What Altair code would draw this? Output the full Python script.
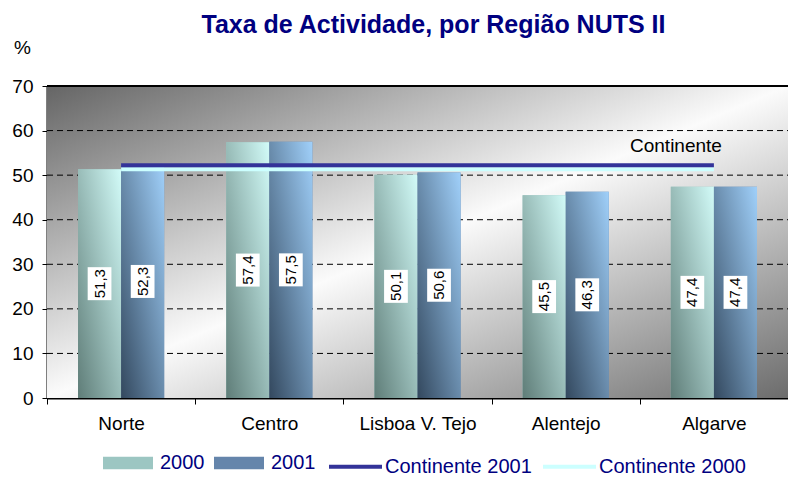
import altair as alt
import pandas as pd

regions = ["Norte", "Centro", "Lisboa V. Tejo", "Alentejo", "Algarve"]
years = ["2000", "2001"]
rate_2000 = [51.3, 57.4, 50.1, 45.5, 47.4]
rate_2001 = [52.3, 57.5, 50.6, 46.3, 47.4]
continente_2000 = [51.3, 51.3, 51.3, 51.3, 51.3]
continente_2001 = [52.2, 52.2, 52.2, 52.2, 52.2]
line_series = ["Continente 2001", "Continente 2000"]
y_ticks = [0, 10, 20, 30, 40, 50, 60, 70]
grid_values = [10, 20, 30, 40, 50, 60]
annot_region = ["Algarve"]
annot_value = [52.2]
annot_text = ["Continente"]

W, H = 741, 312
FONT = "Liberation Sans"
NAVY = "#000080"

bars = pd.DataFrame({
    "region": regions * 2,
    "year": ["2000"] * 5 + ["2001"] * 5,
    "value": rate_2000 + rate_2001,
})
lines = pd.DataFrame({
    "region": regions * 2,
    "series": ["Continente 2000"] * 5 + ["Continente 2001"] * 5,
    "value": continente_2000 + continente_2001,
})
grid = pd.DataFrame({"g": grid_values})
annot = pd.DataFrame({"region": annot_region, "value": annot_value, "text": annot_text})
one = pd.DataFrame({"k": [0]})

x_scale = alt.Scale(domain=regions, paddingInner=0, paddingOuter=0)
x_axis = alt.Axis(title=None, labelFontSize=19, labelFont=FONT, labelColor="black",
                  labelAngle=0, domainColor="black", domainWidth=2, tickColor="black",
                  tickSize=6, tickBand="extent", labelPadding=10, grid=False)
x_enc = alt.X("region:N", scale=x_scale, axis=x_axis, sort=regions)
xo_enc = alt.XOffset("year:N", scale=alt.Scale(domain=years, paddingOuter=0.72, paddingInner=0))
y_scale = alt.Scale(domain=[0, 70], nice=False, zero=True)
y_axis = alt.Axis(values=y_ticks, title="%", titleAngle=0, titleX=-25, titleY=-39,
                  titleAlign="center", titleBaseline="middle", titleFontSize=19,
                  titleFont=FONT, titleFontWeight="normal", titleColor="black",
                  labelFontSize=19, labelFont=FONT, labelColor="black",
                  domainColor="black", domainWidth=2, tickColor="black", tickSize=5,
                  labelPadding=9, grid=False)

def Y(field):
    return alt.Y(field, scale=y_scale, axis=y_axis, title="%")

bg = alt.Chart(one).mark_rect(
    fill=alt.LinearGradient(gradient="linear", x1=0, y1=0, x2=1, y2=1,
                            stops=[alt.GradientStop(offset=0, color="#656565"),
                                   alt.GradientStop(offset=0.5, color="#fbfbfb"),
                                   alt.GradientStop(offset=1, color="#6c6c6c")])
).encode(x=alt.value(0), x2=alt.value(W), y=alt.datum(0), y2=alt.datum(70))

gridlines = alt.Chart(grid).mark_rule(color="black", strokeWidth=1, strokeDash=[6, 4]).encode(
    x=alt.value(0), x2=alt.value(W), y=Y("g:Q"))

topline = alt.Chart(one).mark_rule(color="black", strokeWidth=2).encode(
    x=alt.value(0), x2=alt.value(W), y=alt.datum(70))

base_bars = alt.Chart(bars).mark_bar().encode(
    x=x_enc, xOffset=xo_enc, y=Y("value:Q"),
    fill=alt.Fill("year:N", scale=alt.Scale(domain=years, range=["#9cc6c2", "#6585ab"]),
                  legend=alt.Legend(title=None, orient="none", legendX=56, legendY=352,
                                    direction="horizontal", padding=0,
                                    symbolType="M-1,-0.25H1V0.25H-1Z", symbolSize=2500,
                                    symbolStrokeWidth=0, labelFontSize=20, labelFont=FONT,
                                    labelColor=NAVY, labelOffset=7, columnPadding=9,
                                    labelLimit=300)))

def grad_bars(year, c0, c1):
    return alt.Chart(bars).mark_bar(
        fill=alt.LinearGradient(gradient="linear", x1=0, y1=1, x2=1, y2=0,
                                stops=[alt.GradientStop(offset=0, color=c0),
                                       alt.GradientStop(offset=1, color=c1)])
    ).encode(x=x_enc, xOffset=xo_enc, y=Y("value:Q")).transform_filter(
        alt.datum.year == year)

g2000 = grad_bars("2000", "#5f7d78", "#d2fbf8")
g2001 = grad_bars("2001", "#33485e", "#a0d0fa")

stroke_enc = alt.Stroke("series:N", scale=alt.Scale(domain=line_series, range=["#333399", "#ccffff"]),
                        legend=alt.Legend(title=None, orient="none", legendX=280, legendY=352,
                                          direction="horizontal", padding=0,
                                          symbolType="stroke", symbolSize=2809,
                                          symbolStrokeWidth=4, labelFontSize=20, labelFont=FONT,
                                          labelColor=NAVY, labelOffset=1, columnPadding=3,
                                          labelLimit=300))

def line_layer(series):
    return alt.Chart(lines).mark_line(strokeWidth=4, strokeCap="butt").encode(
        x=x_enc, y=Y("value:Q"), stroke=stroke_enc).transform_filter(
        alt.datum.series == series)

l2000 = line_layer("Continente 2000")
l2001 = line_layer("Continente 2001")

lab = alt.Chart(bars).transform_calculate(
    mid="datum.value / 2",
    label="replace(format(datum.value, '.1f'), '.', ',')")

boxes = lab.mark_point(shape="M-0.72,-1H0.72V1H-0.72Z", size=1089, filled=True,
                       fill="white", opacity=1, strokeWidth=0).encode(
    x=x_enc, xOffset=xo_enc, y=Y("mid:Q"))

texts = lab.mark_text(angle=270, fontSize=15, font=FONT, color="black",
                      align="center", baseline="middle").encode(
    x=x_enc, xOffset=xo_enc, y=Y("mid:Q"), text="label:N")

annot_layer = alt.Chart(annot).mark_text(align="right", baseline="middle", dx=8, dy=-19,
                                         fontSize=19, font=FONT, color="black").encode(
    x=x_enc, y=Y("value:Q"), text="text:N")

chart = alt.layer(bg, gridlines, topline, base_bars, g2000, g2001, l2000, l2001,
                  boxes, texts, annot_layer).properties(
    width=W, height=H,
    title=alt.Title("Taxa de Actividade, por Região NUTS II", fontSize=25, font=FONT,
                    fontWeight="bold", color=NAVY, anchor="middle", dx=16, offset=0),
    autosize=alt.AutoSizeParams(type="none"),
    padding={"left": 39, "top": 78, "right": 0, "bottom": 90},
).configure_view(stroke=None)

chart.save("out.html", embed_options={"renderer": "svg", "actions": False})
